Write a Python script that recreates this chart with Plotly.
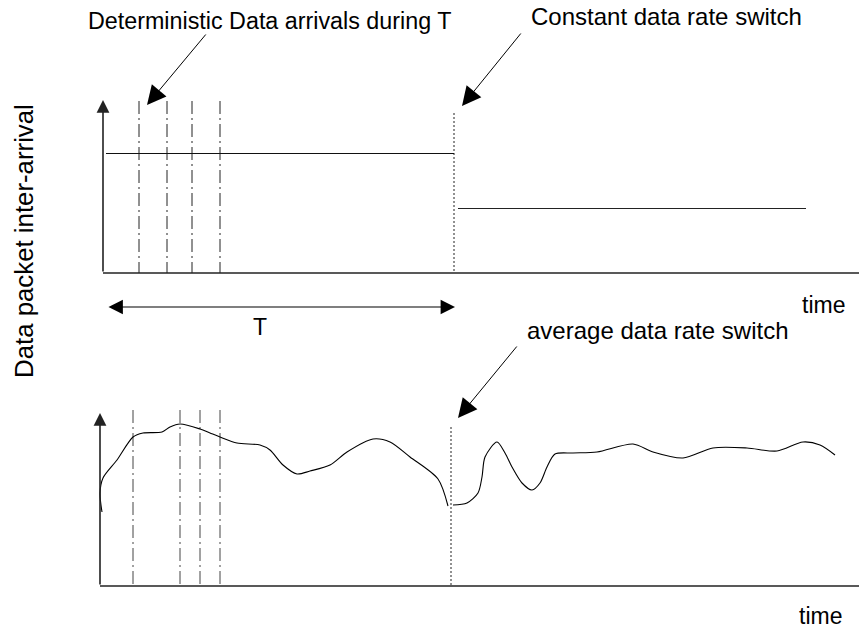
import plotly.graph_objects as go

# ---- data (canvas units, y grows downward) ----
# top panel: deterministic arrivals and constant rate levels
top_arrivals = [139, 167, 192, 220]
top_arrival_span = [101, 273]
top_switch_t = 454
top_switch_span = [113, 273]
level_before = 153
level_before_t = [106, 454]
level_after = 208
level_after_t = [458, 806]

# bottom panel: random arrivals and average rate curve
bot_arrivals = [133, 180, 200, 220]
bot_arrival_span = [410, 586]
bot_switch_t = 451
bot_switch_span = [427, 586]
curve_before_t = [102, 100, 103, 117, 133, 143, 162, 170, 180, 200, 210, 220, 237, 260,
                  270, 283, 297, 310, 330, 347, 373, 390, 410, 438, 448]
curve_before_v = [512, 493, 478, 460, 437, 433, 432, 427, 424, 429, 433, 437, 443, 445,
                  450, 465, 474, 471, 465, 452, 439, 442, 457, 479, 506]
curve_after_t = [453, 467, 478, 482, 485, 497, 505, 512, 522, 532, 540, 547, 555, 573,
                 597, 633, 653, 683, 713, 747, 777, 803, 820, 835]
curve_after_v = [505, 503, 493, 477, 457, 442, 453, 467, 483, 490, 483, 467, 454, 453,
                 452, 444, 452, 458, 448, 448, 451, 442, 445, 455]

# axes (origin, arrow tip, right end)
top_axis = dict(x0=103, y0=273, tip=100, xend=859)
bot_axis = dict(x0=100, y0=586, tip=413, xend=859)

T_span = [107, 455]
T_y = 307

labels = [  # text, x, y, size
    ("Deterministic Data arrivals during T", 269, 21, 23.3),
    ("Constant data rate switch", 666, 16, 24),
    ("average data rate switch", 657, 330, 24),
    ("T", 260, 327, 23),
    ("time", 823, 305, 23),
    ("time", 820, 616, 23),
]
ylabel = ("Data packet inter-arrival", 24, 241, 25.8)

callouts = [  # (tail_x, tail_y, head_x, head_y)
    (207, 33, 147, 105),
    (522, 32, 462, 106),
    (518, 345, 458, 418),
]

W, H = 859, 628
FONT = "Liberation Sans, Arial, sans-serif"
AX_COL = "#222"

fig = go.Figure()

def vline(x, span, dash, color="#333", width=1):
    fig.add_trace(go.Scatter(x=[x, x], y=span, mode="lines",
                             line=dict(color=color, width=width, dash=dash),
                             hoverinfo="skip", showlegend=False))

def hline(y, span, color="#333", width=1.2):
    fig.add_trace(go.Scatter(x=span, y=[y, y], mode="lines",
                             line=dict(color=color, width=width),
                             hoverinfo="skip", showlegend=False))

DASHDOT = "13px,4px,2px,4px"
for t in top_arrivals:
    vline(t, top_arrival_span, DASHDOT, color="#222")
for t in bot_arrivals:
    vline(t, bot_arrival_span, DASHDOT, color="#444")
vline(top_switch_t, top_switch_span, "2px,2px", color="#222")
vline(bot_switch_t, bot_switch_span, "2px,2px", color="#222")

hline(level_before + 0.5, level_before_t, color="#111", width=1)
hline(level_after + 0.5, level_after_t, color="#222", width=1)

for tt, vv in [(curve_before_t, curve_before_v), (curve_after_t, curve_after_v)]:
    fig.add_trace(go.Scatter(x=tt, y=vv, mode="lines",
                             line=dict(color="black", width=1.1, shape="spline", smoothing=0.8),
                             hoverinfo="skip", showlegend=False))

# baselines
for ax in (top_axis, bot_axis):
    hline(ax["y0"], [ax["x0"], ax["xend"]], color=AX_COL, width=1.6)

annotations = []
# vertical axes with arrows
for ax in (top_axis, bot_axis):
    annotations.append(dict(x=ax["x0"], y=ax["tip"], ax=ax["x0"], ay=ax["y0"],
                            xref="x", yref="y", axref="x", ayref="y", text="",
                            showarrow=True, arrowhead=2, arrowsize=1.6, arrowwidth=1.6,
                            arrowcolor=AX_COL, standoff=0))
# T double arrow
annotations.append(dict(x=T_span[1], y=T_y, ax=T_span[0], ay=T_y,
                        xref="x", yref="y", axref="x", ayref="y", text="",
                        showarrow=True, arrowhead=2, startarrowhead=2, arrowside="end+start",
                        arrowsize=2.4, startarrowsize=2.4, arrowwidth=1.2,
                        arrowcolor="black", standoff=0, startstandoff=0))
for tx, ty, hx, hy in callouts:
    annotations.append(dict(x=hx, y=hy, ax=tx, ay=ty,
                            xref="x", yref="y", axref="x", ayref="y", text="",
                            showarrow=True, arrowhead=2, arrowsize=3.8, arrowwidth=1,
                            arrowcolor="black", standoff=0))
for txt, x, y, s in labels:
    annotations.append(dict(x=x, y=y, xref="x", yref="y", text=txt, showarrow=False,
                            xanchor="center", yanchor="middle",
                            font=dict(family=FONT, size=s, color="black")))
annotations.append(dict(x=ylabel[1], y=ylabel[2], xref="x", yref="y", text=ylabel[0],
                        showarrow=False, textangle=-90, xanchor="center", yanchor="middle",
                        font=dict(family=FONT, size=ylabel[3], color="black")))

fig.update_layout(
    width=W, height=H,
    margin=dict(l=0, r=0, t=0, b=0),
    paper_bgcolor="white", plot_bgcolor="white",
    xaxis=dict(range=[0, W], visible=False, fixedrange=True),
    yaxis=dict(range=[H, 0], visible=False, fixedrange=True),
    annotations=annotations,
    showlegend=False,
)

fig.write_html("out.html", config={"displayModeBar": False},
               post_script="document.body.style.margin='0';document.body.style.overflow='hidden';")
